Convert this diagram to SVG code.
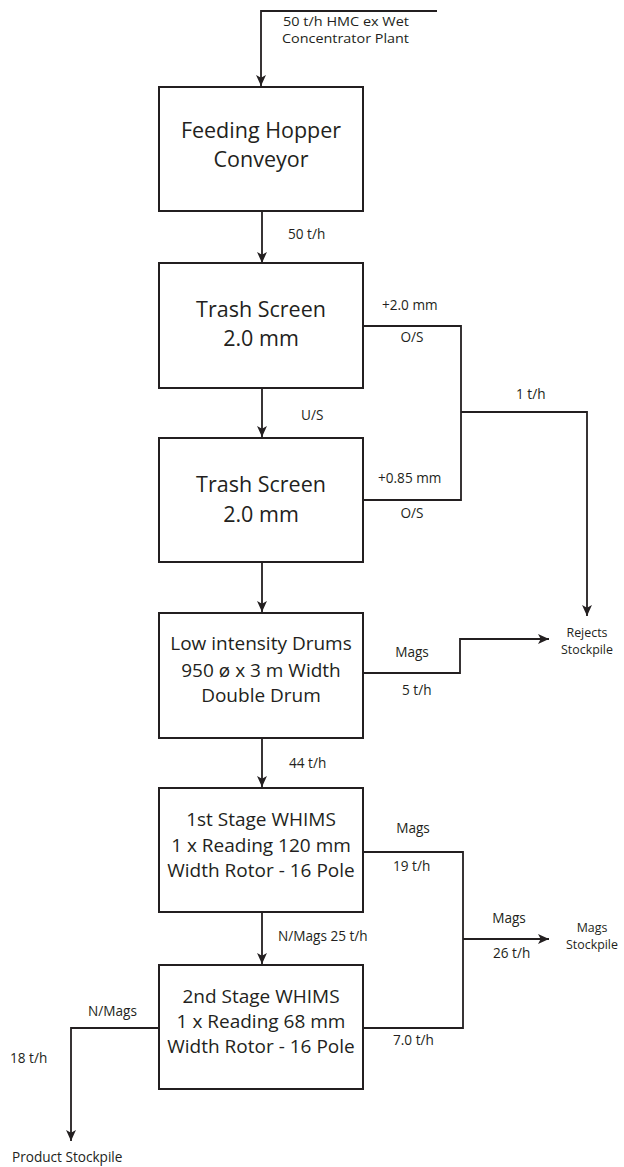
<svg xmlns="http://www.w3.org/2000/svg" width="624" height="1167" viewBox="0 0 624 1167">
<style>
.box{fill:#fff;stroke:#231f20;stroke-width:2}
.ln{fill:none;stroke:#231f20;stroke-width:1.8}
.big{font-family:"Open Sans","Liberation Sans",sans-serif;font-size:21.5px;fill:#231f20;text-anchor:middle}
.mid{font-size:19px}
.lb{font-family:"Open Sans","Liberation Sans",sans-serif;font-size:13.6px;fill:#231f20}
.tw{font-size:12.4px}
.c{text-anchor:middle}
</style>
<defs>
<marker id="ah" viewBox="0 0 10 10" refX="10" refY="5" markerWidth="11" markerHeight="11" markerUnits="userSpaceOnUse" orient="auto">
<path d="M0,0.5 L10,5 L0,9.5 L2.5,5 z" fill="#231f20"/>
</marker>
</defs>
<rect width="624" height="1167" fill="#fff"/>
<g id="connectors">
<polyline class="ln" points="437,11 261,11 261,86" marker-end="url(#ah)"/>
<polyline class="ln" points="262,211 262,263" marker-end="url(#ah)"/>
<polyline class="ln" points="363,326 461,326 461,500 363,500"/>
<polyline class="ln" points="461,412 587,412 587,616" marker-end="url(#ah)"/>
<polyline class="ln" points="262,388 262,437" marker-end="url(#ah)"/>
<polyline class="ln" points="262,562 262,612" marker-end="url(#ah)"/>
<polyline class="ln" points="363,673 460,673 460,639 549,639" marker-end="url(#ah)"/>
<polyline class="ln" points="262,738 262,787" marker-end="url(#ah)"/>
<polyline class="ln" points="363,852 463,852 463,1028 363,1028"/>
<polyline class="ln" points="463,939 549,939" marker-end="url(#ah)"/>
<polyline class="ln" points="262,912 262,964" marker-end="url(#ah)"/>
<polyline class="ln" points="159,1028 71,1028 71,1141" marker-end="url(#ah)"/>
</g>
<g id="labels">
<text class="lb tw" x="283" y="26" textLength="126" lengthAdjust="spacingAndGlyphs">50 t/h HMC ex Wet</text>
<text class="lb tw" x="282" y="43" textLength="127" lengthAdjust="spacingAndGlyphs">Concentrator Plant</text>
<text class="lb" x="288" y="239">50 t/h</text>
<text class="lb" x="382" y="310">+2.0 mm</text>
<text class="lb c" x="412" y="342">O/S</text>
<text class="lb" x="516" y="399">1 t/h</text>
<text class="lb" x="301" y="420">U/S</text>
<text class="lb" x="378" y="483">+0.85 mm</text>
<text class="lb c" x="412" y="518">O/S</text>
<text class="lb c tw" x="587" y="637">Rejects</text>
<text class="lb c tw" x="587" y="654">Stockpile</text>
<text class="lb c" x="412" y="657">Mags</text>
<text class="lb" x="402" y="695">5 t/h</text>
<text class="lb" x="289" y="768">44 t/h</text>
<text class="lb c" x="413" y="833">Mags</text>
<text class="lb" x="393" y="871">19 t/h</text>
<text class="lb c" x="509" y="923">Mags</text>
<text class="lb" x="493" y="958">26 t/h</text>
<text class="lb c tw" x="592" y="932">Mags</text>
<text class="lb c tw" x="592" y="949">Stockpile</text>
<text class="lb" x="278" y="941">N/Mags 25 t/h</text>
<text class="lb" x="393" y="1045">7.0 t/h</text>
<text class="lb" x="88" y="1016">N/Mags</text>
<text class="lb" x="10" y="1063">18 t/h</text>
<text class="lb" x="12" y="1162">Product Stockpile</text>
</g>
<g id="feeding-hopper">
<rect class="box" x="159" y="87" width="204" height="124"/>
<text class="big" x="261" y="138">Feeding Hopper</text>
<text class="big" x="261" y="167">Conveyor</text>
</g>
<g id="trash-screen-1">
<rect class="box" x="159" y="263" width="204" height="125"/>
<text class="big" x="261" y="317">Trash Screen</text>
<text class="big" x="261" y="346">2.0 mm</text>
</g>
<g id="trash-screen-2">
<rect class="box" x="159" y="438" width="204" height="124"/>
<text class="big" x="261" y="492">Trash Screen</text>
<text class="big" x="261" y="522">2.0 mm</text>
</g>
<g id="low-intensity-drums">
<rect class="box" x="159" y="613" width="204" height="125"/>
<text class="big mid" x="261" y="650">Low intensity Drums</text>
<text class="big mid" x="261" y="677">950 ø x 3 m Width</text>
<text class="big mid" x="261" y="702">Double Drum</text>
</g>
<g id="whims-1">
<rect class="box" x="159" y="788" width="204" height="124"/>
<text class="big mid" x="261" y="826">1st Stage WHIMS</text>
<text class="big mid" x="261" y="852">1 x Reading 120 mm</text>
<text class="big mid" x="261" y="877">Width Rotor - 16 Pole</text>
</g>
<g id="whims-2">
<rect class="box" x="159" y="965" width="204" height="124"/>
<text class="big mid" x="261" y="1003">2nd Stage WHIMS</text>
<text class="big mid" x="261" y="1028">1 x Reading 68 mm</text>
<text class="big mid" x="261" y="1053">Width Rotor - 16 Pole</text>
</g>
</svg>
